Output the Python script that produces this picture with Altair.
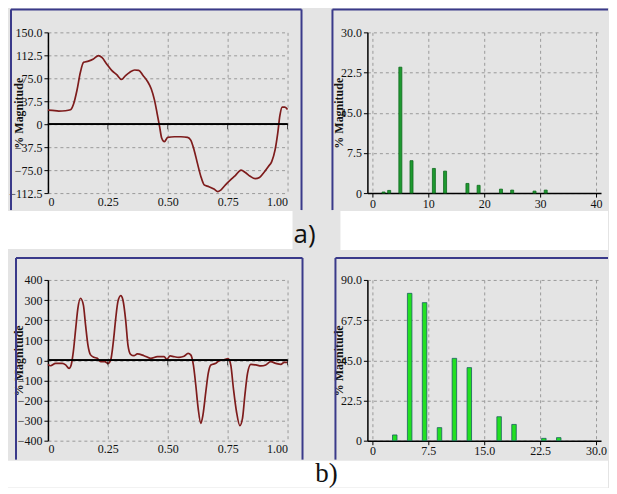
import altair as alt
import pandas as pd

# ---------------- data ----------------
# (a) distorted waveform
a_time = [0.000, 0.018, 0.045, 0.073, 0.094, 0.107, 0.121, 0.135, 0.149, 0.169,
          0.190, 0.211, 0.225, 0.245, 0.266, 0.287, 0.307, 0.324, 0.342, 0.362,
          0.379, 0.397, 0.417, 0.431, 0.445, 0.456, 0.466, 0.475, 0.486, 0.500,
          0.528, 0.555, 0.583, 0.596, 0.610, 0.624, 0.638, 0.652, 0.672, 0.693,
          0.709, 0.720, 0.741, 0.762, 0.782, 0.806, 0.824, 0.844, 0.865, 0.883,
          0.899, 0.920, 0.934, 0.948, 0.959, 0.968, 0.978, 0.989, 1.000]
a_wave = [23, 22.5, 21.5, 22, 23.5, 33, 55, 84, 101, 103,
          106.5, 112, 109, 98.5, 88, 81, 73, 79.5, 85, 88.5,
          88, 79.5, 69, 58, 39, 17, -4, -23, -28.5, -21.5,
          -20.5, -20.5, -21.5, -26, -42, -64, -85, -99, -102, -106,
          -110, -108, -99, -91, -84, -75, -79, -85, -89, -87,
          -80, -69, -61, -42, -15, 14, 28, 28, 24]
# (a) harmonic spectrum
a_order = [2, 3, 5, 7, 11, 13, 17, 19, 23, 25, 29, 31]
a_mag = [0.2, 0.5, 23.5, 6.05, 4.6, 4.1, 1.8, 1.45, 0.74, 0.56, 0.37, 0.56]

# (b) distorted waveform
b_time = [0.000, 0.011, 0.032, 0.060, 0.074, 0.088, 0.097, 0.106, 0.116, 0.125,
          0.136, 0.148, 0.157, 0.167, 0.178, 0.192, 0.206, 0.220, 0.237, 0.251,
          0.262, 0.273, 0.283, 0.292, 0.304, 0.313, 0.325, 0.334, 0.345, 0.359,
          0.373, 0.401, 0.429, 0.457, 0.485, 0.496, 0.510, 0.526, 0.547, 0.568,
          0.585, 0.596, 0.607, 0.617, 0.627, 0.638, 0.647, 0.659, 0.669, 0.680,
          0.701, 0.714, 0.735, 0.752, 0.763, 0.774, 0.787, 0.801, 0.812, 0.822,
          0.833, 0.847, 0.868, 0.889, 0.909, 0.930, 0.951, 0.972, 0.986, 1.000]
b_wave = [-20, -27, -15, -15, -23, -40, -23, 43, 159, 259,
          309, 275, 176, 76, 27, 15, 10, -7, -7, -15,
          2, 93, 209, 292, 322, 300, 193, 76, 30, 23,
          32, 23, 10, 18, 18, 5, 22, 18, 15, 20,
          35, 27, -23, -123, -239, -314, -272, -156, -65, -23,
          -15, -3, 2, 8, -23, -139, -256, -325, -289, -173,
          -65, -20, -23, -28, -23, -7, -15, -20, -10, -10]
# (b) harmonic spectrum
b_order = [3, 5, 7, 9, 11, 13, 17, 19, 23, 25]
b_mag = [3.2, 82.5, 77.3, 7.3, 46.1, 40.9, 13.4, 9.1, 1.3, 1.7]

# axis ticks
wave_x_ticks = [0, 0.25, 0.5, 0.75, 1.0]
a_wave_y_ticks = [-112.5, -75, -37.5, 0, 37.5, 75, 112.5, 150]
b_wave_y_ticks = [-400, -300, -200, -100, 0, 100, 200, 300, 400]
a_spec_x_ticks = [0, 10, 20, 30, 40]
a_spec_y_ticks = [0, 7.5, 15, 22.5, 30]
b_spec_x_ticks = [0, 7.5, 15, 22.5, 30]
b_spec_y_ticks = [0, 22.5, 45, 67.5, 90]

# ---------------- style ----------------
WL, WR, H = 240, 234, 161
BG = "#e4e4e4"
NAVY = "#3a3a8a"
LINE = "#7e1c1c"
TITLE = "% Magnitude"

one = pd.DataFrame({"k": [0]})

fmt1 = "datum.value == 0 ? '0' : format(datum.value, '.1f')"
fmt2 = "datum.value == 0 ? '0' : format(datum.value, '.2f')"
fmt0 = "format(datum.value, 'd')"


def rect(x1, y1, x2, y2, color):
    return alt.Chart(one).mark_rect(color=color).encode(
        x=alt.value(x1), x2=alt.value(x2), y=alt.value(y1), y2=alt.value(y2))


def hline(x1, x2, y):
    return alt.Chart(one).mark_rule(color=NAVY, strokeWidth=2).encode(
        x=alt.value(x1), x2=alt.value(x2), y=alt.value(y))


def vline(x, y1, y2):
    return alt.Chart(one).mark_rule(color=NAVY, strokeWidth=2).encode(
        x=alt.value(x), y=alt.value(y1), y2=alt.value(y2))


def label(x, y, txt, font, size):
    return alt.Chart(one).mark_text(font=font, fontSize=size, color="#111",
                                    align="center", baseline="alphabetic").encode(
        x=alt.value(x), y=alt.value(y), text=alt.value(txt))


def y_axis(values, fmt):
    return alt.Axis(values=values, labelExpr=fmt, title=TITLE, labelOverlap=False,
                    titleX=-22, titleY=H / 2, titleAngle=-90,
                    titleBaseline="bottom", titleAlign="center")


def wave_panel(t, v, ydom, yticks, yfmt, deco):
    df = pd.DataFrame({"t": t, "v": v})
    zdf = pd.DataFrame({"t": wave_x_ticks[1:], "z": [0] * (len(wave_x_ticks) - 1)})
    xs = alt.Scale(domain=[0, 1], nice=False)
    ys = alt.Scale(domain=ydom, nice=False, zero=False)
    xax = alt.Axis(values=wave_x_ticks, labelExpr=fmt2, domain=False, ticks=False, title=None,
                   labelPadding=3, labelOverlap=False)
    yax = y_axis(yticks, yfmt)
    line = alt.Chart(df).mark_line(color=LINE, strokeWidth=1.7, interpolate="monotone").encode(
        x=alt.X("t:Q", scale=xs, axis=xax),
        y=alt.Y("v:Q", scale=ys, axis=yax),
    )
    zero = alt.Chart(zdf).mark_rule(color="black", strokeWidth=1.5).encode(
        y=alt.Y("z:Q", scale=ys, axis=yax))
    ticks = alt.Chart(zdf).mark_tick(
        orient="vertical", size=5, thickness=1, color="black", yOffset=2.5).encode(
        x=alt.X("t:Q", scale=xs, axis=xax), y=alt.Y("z:Q", scale=ys, axis=yax))
    return alt.layer(*deco, line, zero, ticks).properties(width=WL, height=H)


def spec_panel(h, m, xdom, xticks, xfmt, ydom, yticks, fill, stroke, size, deco, flush):
    df = pd.DataFrame({"h": h, "m": m})
    bars = alt.Chart(df).mark_bar(size=size, color=fill, stroke=stroke, strokeWidth=0.8,
                                  orient="vertical").encode(
        x=alt.X("h:Q", scale=alt.Scale(domain=xdom, nice=False),
                axis=alt.Axis(values=xticks, labelExpr=xfmt, title=None, labelPadding=1,
                              labelOverlap=False, labelFlush=flush)),
        y=alt.Y("m:Q", scale=alt.Scale(domain=ydom, nice=False), axis=y_axis(yticks, fmt1)),
    )
    return alt.layer(*deco, bars).properties(width=WR, height=H)


# panel frames and figure labels (pixel offsets from each plot area's corner)
deco_tl = [rect(-40, 179, 245, 217, "white"),
           hline(-37, 254, -23), vline(-37, -23, 178), vline(254, -23, 178),
           label(257, 211, "a)", "Open Sans", 26)]
deco_tr = [rect(-27, 179, 241, 218, "white"),
           hline(-35, 241, -23), vline(-35, -23, 178)]
deco_bl = [rect(-40, 181, 561, 208, "white"),
           hline(-32, 255, -22), vline(-32, -22, 180), vline(255, -22, 180),
           label(279, 202, "b)", "Liberation Serif", 27)]
deco_br = [hline(-32, 241, -22), vline(-32, -22, 180)]

tl = wave_panel(a_time, a_wave, [-112.5, 150], a_wave_y_ticks, fmt1, deco_tl)
tr = spec_panel(a_order, a_mag, [0, 40], a_spec_x_ticks, fmt0, [0, 30], a_spec_y_ticks,
                "#1e9a30", "#0f6a1e", 3, deco_tr, False)
bl = wave_panel(b_time, b_wave, [-400, 400], b_wave_y_ticks, fmt0, deco_bl)
br = spec_panel(b_order, b_mag, [0, 30], b_spec_x_ticks, fmt1, [0, 90], b_spec_y_ticks,
                "#22e022", "#1a5f60", 4.5, deco_br, True)

chart = alt.concat(tl, tr, bl, br, columns=2, spacing={"row": 87, "column": 80},
                   bounds="flush", padding=0, background=BG).configure_axis(
    labelFont="Liberation Serif", labelFontSize=12, labelColor="#111",
    titleFont="Liberation Serif", titleFontSize=12, titleFontWeight="bold", titleColor="#111",
    domainColor="black", domainWidth=1.5, tickColor="black", tickSize=4, tickWidth=1,
    gridColor="#9a9a9a", gridDash=[3, 3], gridWidth=1, labelPadding=2, labelOverlap=False,
).configure_view(stroke=None)

chart.save("out.html", embed_options={"renderer": "svg", "actions": False})
